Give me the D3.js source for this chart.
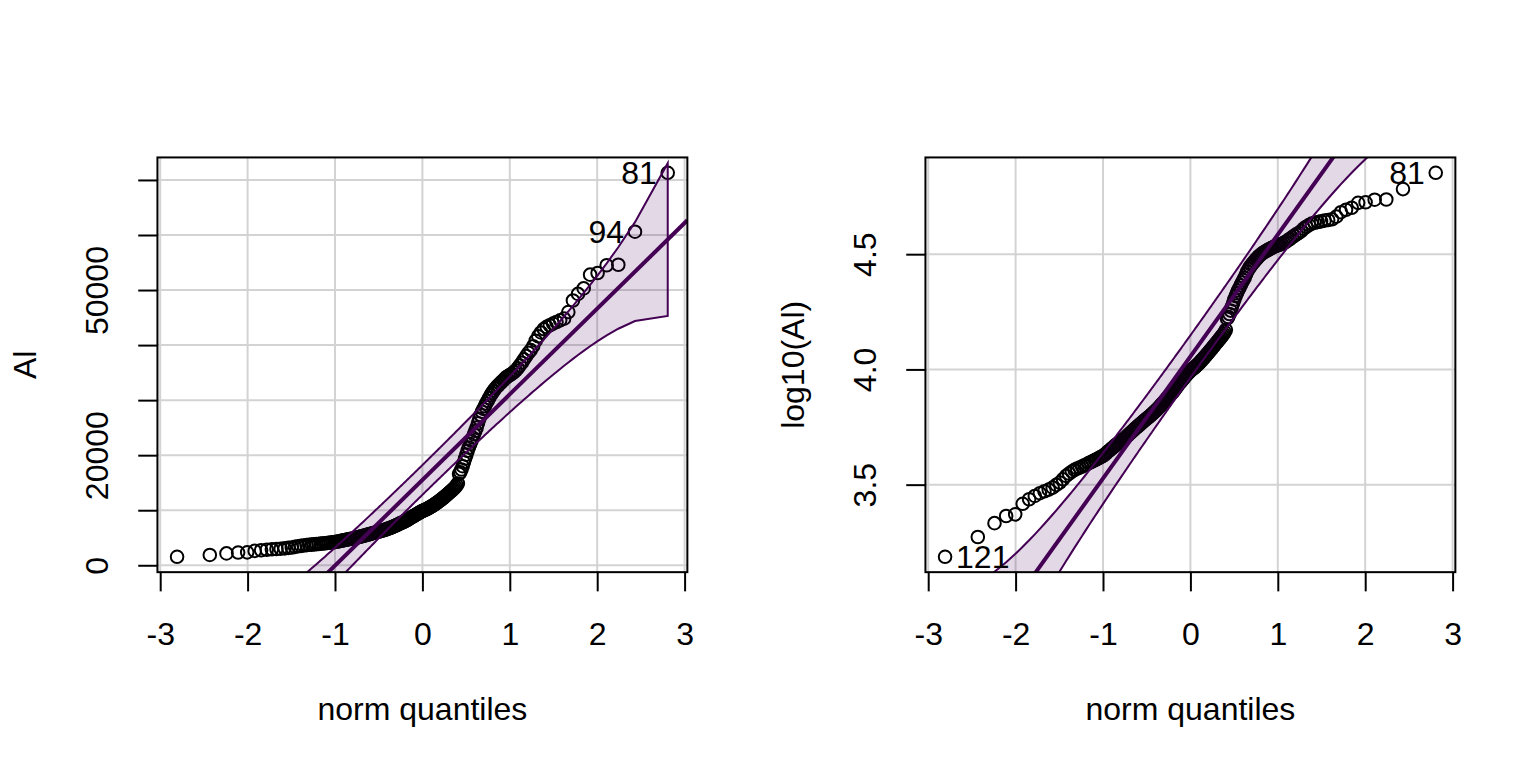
<!DOCTYPE html>
<html>
<head>
<meta charset="utf-8">
<script src="https://cdn.jsdelivr.net/npm/d3@7"></script>
<style>
    body { margin: 0; background: #fff; }
    svg { display: block; }
    text { font-family: "Liberation Sans", Arial, sans-serif; font-size: 32px; fill: #000; }
</style>
</head>
<body>
<div id="chart"></div>
<script>
// Al values, sorted ascending
const alValues = [
    1538, 1875, 2153, 2312, 2350, 2612, 2733, 2825, 2904, 2960, 3008, 3069, 3155, 3228, 3337, 3451, 3531, 3604, 3667, 3715,
    3750, 3790, 3840, 3870, 3925, 3960, 4000, 4045, 4080, 4125, 4170, 4210, 4260, 4320, 4395, 4450, 4520, 4580, 4640, 4710,
    4760, 4820, 4870, 4920, 4977, 5040, 5110, 5180, 5250, 5320, 5380, 5450, 5520, 5590, 5650, 5710, 5780, 5850, 5910, 5980,
    6040, 6100, 6160, 6220, 6290, 6360, 6430, 6500, 6570, 6650, 6730, 6810, 6900, 6990, 7080, 7170, 7270, 7360, 7460, 7560,
    7650, 7740, 7830, 7920, 8020, 8140, 8260, 8380, 8510, 8650, 8760, 8880, 8990, 9110, 9230, 9350, 9470, 9590, 9700, 9810,
    9900, 10000, 10080, 10170, 10260, 10380, 10490, 10600, 10710, 10850, 10990, 11120, 11260, 11400, 11550, 11700, 11860, 12020, 12180, 12350,
    12520, 12700, 12880, 13060, 13240, 13430, 13620, 13820, 14030, 14250, 14520, 14850, 16600, 16900, 17400, 18000, 18700, 19400, 20100, 20800,
    21400, 22000, 22600, 23200, 23800, 24400, 25000, 25800, 26600, 27300, 27900, 28400, 28900, 29400, 29900, 30400, 30900, 31300, 31700, 32100,
    32400, 32700, 33000, 33300, 33600, 33900, 34200, 34400, 34600, 34800, 35100, 35400, 35800, 36300, 36800, 37400, 38000, 38600, 39100, 39800,
    40800, 41600, 42300, 42900, 43300, 43600, 43900, 44200, 44500, 44800, 46000, 48100, 49300, 50300, 52800, 53100, 54500, 54600, 60600, 71300
];

const zTicks = [-3, -2, -1, 0, 1, 2, 3];
const alTicks = [0, 10000, 20000, 30000, 40000, 50000, 60000, 70000];
const alTickLabels = [0, 20000, 50000];
const logTicks = [3.5, 4.0, 4.5];

// robust reference lines: [intercept, slope]
const alFit = [15500, 15560];
const logFit = [4.056, 0.529];

// identified observations: rank in sorted data -> row id
const alIds = [{ rank: 200, id: "81" }, { rank: 199, id: "94" }];
const logIds = [{ rank: 200, id: "81" }, { rank: 1, id: "121" }];

const LINE = 38.4;
const PANEL_W = 768, H = 768;
const LINECOL = "#440154";

function qnorm(p) {
    const a = [-3.969683028665376e+01, 2.209460984245205e+02, -2.759285104469687e+02, 1.383577518672690e+02, -3.066479806614716e+01, 2.506628277459239e+00];
    const b = [-5.447609879822406e+01, 1.615858368580409e+02, -1.556989798598866e+02, 6.680131188771972e+01, -1.328068155288572e+01];
    const c = [-7.784894002430293e-03, -3.223964580411365e-01, -2.400758277161838e+00, -2.549732539343734e+00, 4.374664141464968e+00, 2.938163982698783e+00];
    const d = [7.784695709041462e-03, 3.224671290700398e-01, 2.445134137142996e+00, 3.754408661907416e+00];
    const pl = 0.02425;
    let q, r;
    if (p < pl || p > 1 - pl) {
        q = Math.sqrt(-2 * Math.log(p < pl ? p : 1 - p));
        let v = (((((c[0] * q + c[1]) * q + c[2]) * q + c[3]) * q + c[4]) * q + c[5]) /
            ((((d[0] * q + d[1]) * q + d[2]) * q + d[3]) * q + 1);
        return p < pl ? v : -v;
    }
    q = p - 0.5;
    r = q * q;
    return (((((a[0] * r + a[1]) * r + a[2]) * r + a[3]) * r + a[4]) * r + a[5]) * q /
        (((((b[0] * r + b[1]) * r + b[2]) * r + b[3]) * r + b[4]) * r + 1);
}

function dnorm(z) {
    return Math.exp(-z * z / 2) / Math.sqrt(2 * Math.PI);
}

// R style axis range: data range widened by 4% each side
function padRange(ext) {
    let d = (ext[1] - ext[0]) * 0.04;
    return [ext[0] - d, ext[1] + d];
}

class QQPanel {

    constructor(svg, offsetX, values, fit, opts) {
        this.svg = svg;
        this.offsetX = offsetX;
        this.values = values;
        this.fit = fit;
        this.opts = opts;
        this.initVis();
    }

    initVis() {
        let vis = this;
        vis.left = vis.offsetX + 4.1 * LINE;
        vis.right = vis.offsetX + PANEL_W - 2.1 * LINE;
        vis.top = 4.1 * LINE;
        vis.bottom = H - 5.1 * LINE;

        let n = vis.values.length;
        vis.points = vis.values.map((v, i) => {
            let P = (i + 1 - 0.5) / n;
            return { rank: i + 1, P: P, z: qnorm(P), v: v };
        });

        vis.x = d3.scaleLinear()
            .domain(padRange(d3.extent(vis.points, d => d.z)))
            .range([vis.left, vis.right]);
        vis.y = d3.scaleLinear()
            .domain(padRange(d3.extent(vis.points, d => d.v)))
            .range([vis.bottom, vis.top]);

        vis.g = vis.svg.append("g");
        let clipId = "clip" + vis.offsetX;
        vis.g.append("clipPath")
            .attr("id", clipId)
            .append("rect")
            .attr("x", vis.left)
            .attr("y", vis.top)
            .attr("width", vis.right - vis.left)
            .attr("height", vis.bottom - vis.top);
        vis.plotArea = vis.g.append("g").attr("clip-path", "url(#" + clipId + ")");

        vis.drawGrid();
        vis.drawPoints();
        vis.drawEnvelope();
        vis.drawAxes();
        vis.drawLabels();
    }

    drawGrid() {
        let vis = this;
        vis.plotArea.selectAll(".vgrid")
            .data(zTicks)
            .enter()
            .append("line")
            .attr("x1", d => vis.x(d))
            .attr("x2", d => vis.x(d))
            .attr("y1", vis.top)
            .attr("y2", vis.bottom)
            .attr("stroke", "#d3d3d3")
            .attr("stroke-width", 2);
        vis.plotArea.selectAll(".hgrid")
            .data(vis.opts.yTicks)
            .enter()
            .append("line")
            .attr("x1", vis.left)
            .attr("x2", vis.right)
            .attr("y1", d => vis.y(d))
            .attr("y2", d => vis.y(d))
            .attr("stroke", "#d3d3d3")
            .attr("stroke-width", 2);
    }

    drawPoints() {
        let vis = this;
        vis.plotArea.selectAll(".pt")
            .data(vis.points)
            .enter()
            .append("circle")
            .attr("cx", d => vis.x(d.z))
            .attr("cy", d => vis.y(d.v))
            .attr("r", 6.3)
            .attr("fill", "none")
            .attr("stroke", "#000")
            .attr("stroke-width", 2);
    }

    drawEnvelope() {
        let vis = this;
        let n = vis.points.length;
        let a = vis.fit[0], b = vis.fit[1];
        let zz = qnorm(0.975);
        let env = vis.points.map(d => {
            let se = (b / dnorm(d.z)) * Math.sqrt(d.P * (1 - d.P) / n);
            let fitted = a + b * d.z;
            return { z: d.z, lo: fitted - zz * se, hi: fitted + zz * se };
        });

        let area = d3.area()
            .x(d => vis.x(d.z))
            .y0(d => vis.y(d.lo))
            .y1(d => vis.y(d.hi));
        vis.plotArea.append("path")
            .attr("d", area(env) + "Z")
            .attr("fill", LINECOL)
            .attr("fill-opacity", 0.15)
            .attr("stroke", LINECOL)
            .attr("stroke-width", 2);

        let xd = vis.x.domain();
        vis.plotArea.append("line")
            .attr("x1", vis.x(xd[0]))
            .attr("x2", vis.x(xd[1]))
            .attr("y1", vis.y(a + b * xd[0]))
            .attr("y2", vis.y(a + b * xd[1]))
            .attr("stroke", LINECOL)
            .attr("stroke-width", 4);
    }

    drawAxes() {
        let vis = this;
        vis.g.append("rect")
            .attr("x", vis.left)
            .attr("y", vis.top)
            .attr("width", vis.right - vis.left)
            .attr("height", vis.bottom - vis.top)
            .attr("fill", "none")
            .attr("stroke", "#000")
            .attr("stroke-width", 2);

        let xAxis = vis.g.append("g")
            .attr("transform", "translate(0," + vis.bottom + ")")
            .call(d3.axisBottom(vis.x).tickValues(zTicks).tickSize(19.2).tickFormat(d => String(d)));
        xAxis.select(".domain").remove();
        xAxis.selectAll("line").attr("stroke", "#000").attr("stroke-width", 2);
        xAxis.selectAll("text")
            .attr("y", 73)
            .attr("dy", 0)
            .attr("fill", "#000")
            .style("font-size", "32px")
            .style("font-family", "'Liberation Sans', Arial, sans-serif");

        let yAxis = vis.g.append("g")
            .attr("transform", "translate(" + vis.left + ",0)")
            .call(d3.axisLeft(vis.y).tickValues(vis.opts.yTicks).tickSize(19.2).tickFormat(vis.opts.yFormat));
        yAxis.select(".domain").remove();
        yAxis.selectAll("line").attr("stroke", "#000").attr("stroke-width", 2);
        yAxis.selectAll("text")
            .attr("x", 0)
            .attr("dy", 0)
            .attr("text-anchor", "middle")
            .attr("transform", "translate(-49,0) rotate(-90)")
            .attr("fill", "#000")
            .style("font-size", "32px")
            .style("font-family", "'Liberation Sans', Arial, sans-serif");

        vis.g.append("text")
            .attr("x", (vis.left + vis.right) / 2)
            .attr("y", vis.bottom + 148)
            .attr("text-anchor", "middle")
            .text("norm quantiles");

        vis.g.append("text")
            .attr("text-anchor", "middle")
            .attr("transform", "translate(" + (vis.left - 121) + "," + ((vis.top + vis.bottom) / 2) + ") rotate(-90)")
            .text(vis.opts.ylab);
    }

    drawLabels() {
        let vis = this;
        let xMid = d3.mean(vis.x.domain());
        let labelled = vis.opts.ids.map(d => Object.assign({ pt: vis.points[d.rank - 1] }, d));
        vis.g.selectAll(".id-label")
            .data(labelled)
            .enter()
            .append("text")
            .attr("x", d => vis.x(d.pt.z) + (d.pt.z > xMid ? -11 : 11))
            .attr("y", d => vis.y(d.pt.v) + 11.5)
            .attr("text-anchor", d => d.pt.z > xMid ? "end" : "start")
            .text(d => d.id);
    }
}

const svg = d3.select("#chart").append("svg")
    .attr("width", PANEL_W * 2)
    .attr("height", H);

new QQPanel(svg, 0, alValues, alFit, {
    ylab: "Al",
    yTicks: alTicks,
    yFormat: d => alTickLabels.includes(d) ? String(d) : "",
    ids: alIds
});

new QQPanel(svg, PANEL_W, alValues.map(v => Math.log10(v)), logFit, {
    ylab: "log10(Al)",
    yTicks: logTicks,
    yFormat: d3.format(".1f"),
    ids: logIds
});
</script>
</body>
</html>
